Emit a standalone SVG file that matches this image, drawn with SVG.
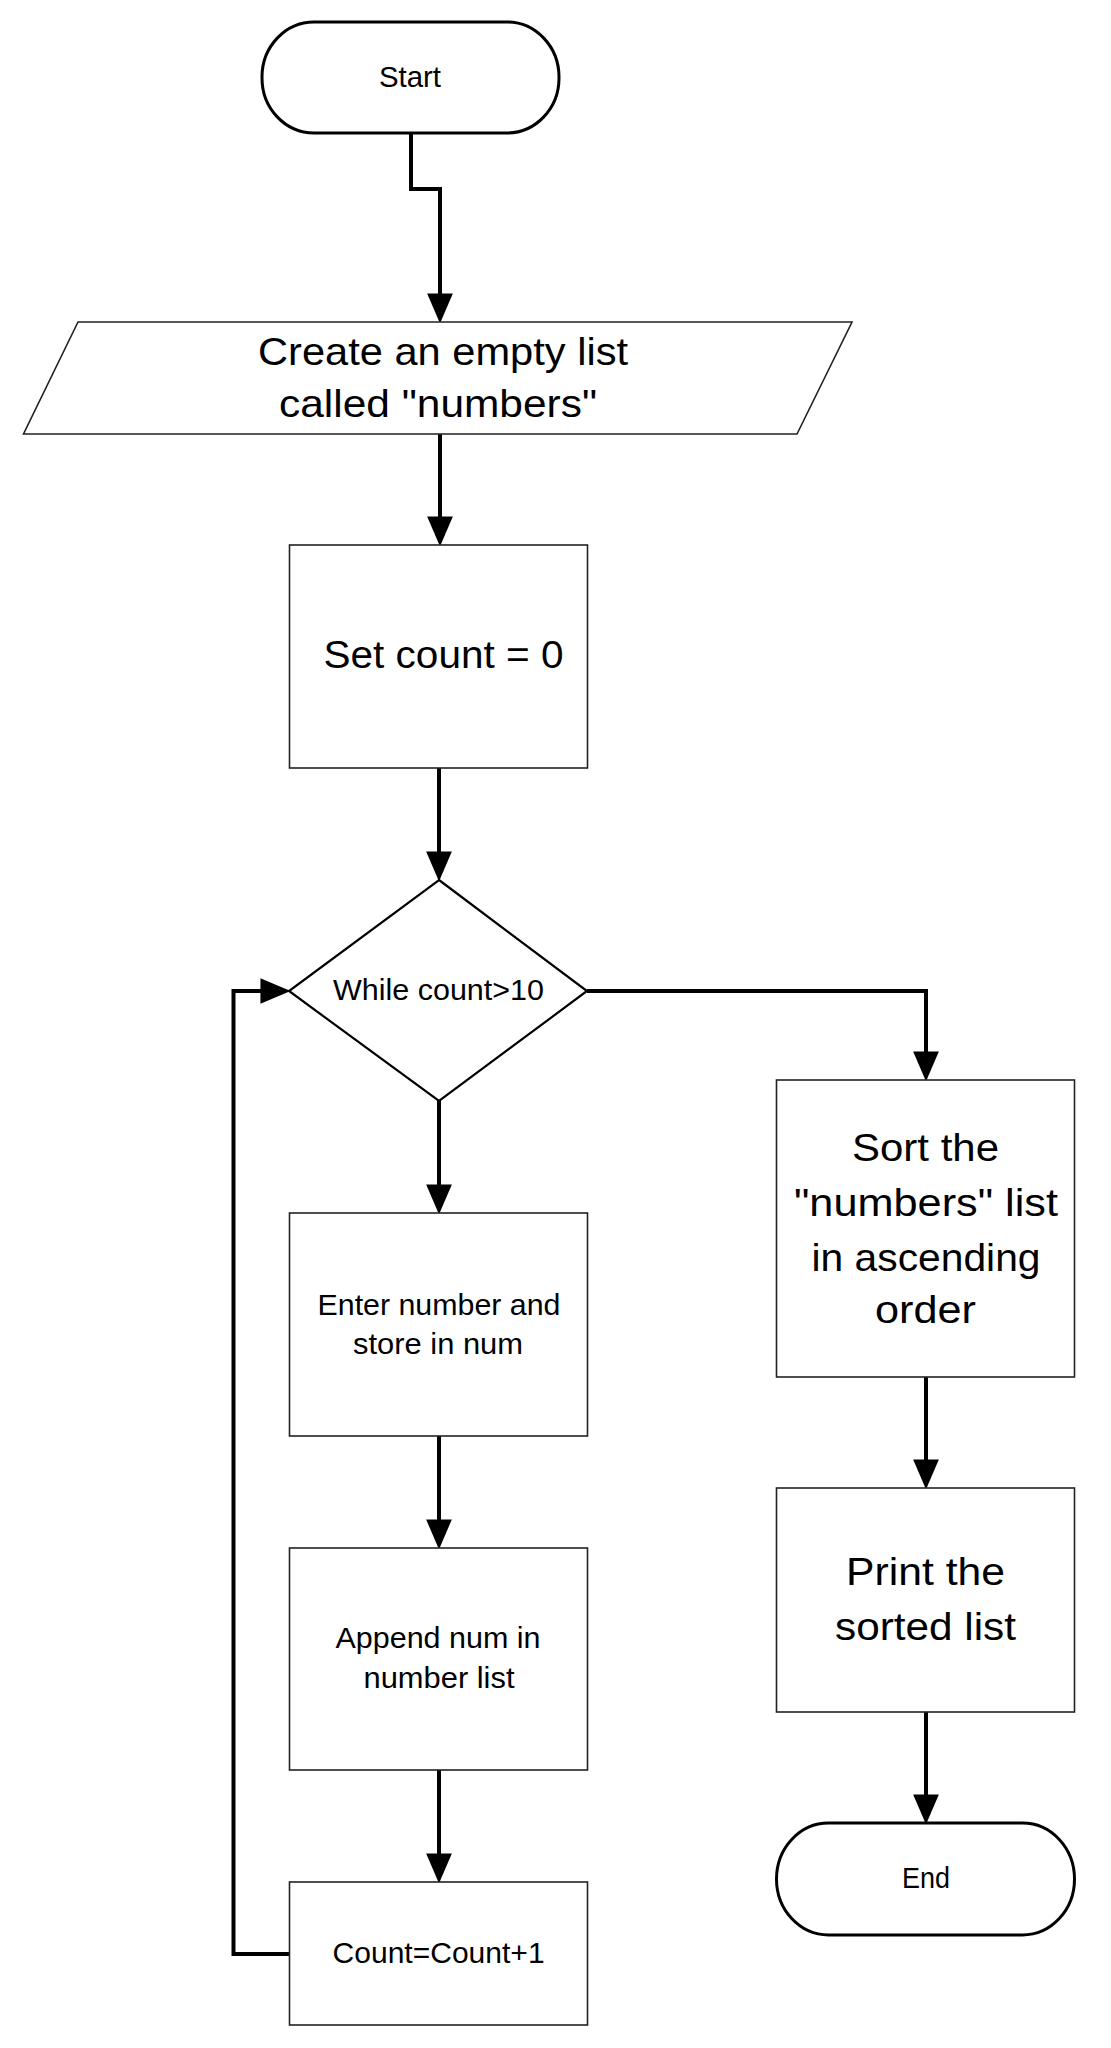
<svg xmlns="http://www.w3.org/2000/svg" width="1111" height="2048" viewBox="0 0 1111 2048">
<style>
text{font-family:"Liberation Sans",Arial,sans-serif;fill:#000;text-anchor:middle}
.box{fill:#fff;stroke:#222;stroke-width:1.6}
.term{fill:#fff;stroke:#000;stroke-width:3}
.big{font-size:38.5px}
.mid{font-size:29px}
.sm{font-size:29px}
.conn{fill:none;stroke:#000;stroke-width:4}
</style>
<defs>
<marker id="arr" markerUnits="userSpaceOnUse" markerWidth="30" markerHeight="26" viewBox="0 0 28 24" refX="8" refY="12" orient="auto">
<path d="M0,0 L28,12 L0,24 z" fill="#000"/>
</marker>
</defs>
<rect width="1111" height="2048" fill="#fff"/>
<g id="connectors">
<path class="conn" d="M411,133 V189 H440 V302" marker-end="url(#arr)"/>
<path class="conn" d="M440,434 V525" marker-end="url(#arr)"/>
<path class="conn" d="M439,768 V860" marker-end="url(#arr)"/>
<path class="conn" d="M439,1101 V1193" marker-end="url(#arr)"/>
<path class="conn" d="M439,1436 V1528" marker-end="url(#arr)"/>
<path class="conn" d="M439,1770 V1862" marker-end="url(#arr)"/>
<path class="conn" d="M289,1954 H233.5 V991 H269" marker-end="url(#arr)"/>
<path class="conn" d="M587,991 H926 V1060" marker-end="url(#arr)"/>
<path class="conn" d="M926,1377 V1468" marker-end="url(#arr)"/>
<path class="conn" d="M926,1712 V1803" marker-end="url(#arr)"/>
</g>
<g id="start">
<rect class="term" x="262" y="22" width="297" height="111" rx="52" ry="55"/>
<text class="sm" x="410" y="87" textLength="62" lengthAdjust="spacingAndGlyphs">Start</text>
</g>
<g id="create">
<polygon class="box" points="78,322 852,322 797,434 23.5,434"/>
<text class="big" x="443" y="365" textLength="370" lengthAdjust="spacingAndGlyphs">Create an empty list</text>
<text class="big" x="438" y="417" textLength="318" lengthAdjust="spacingAndGlyphs">called "numbers"</text>
</g>
<g id="setcount">
<rect class="box" x="289.5" y="545" width="298" height="223"/>
<text class="big" x="443.5" y="668" textLength="240" lengthAdjust="spacingAndGlyphs">Set count = 0</text>
</g>
<g id="while">
<polygon class="box" points="439,880 587,991 439,1101 289,991" style="stroke-width:2.2;stroke:#000"/>
<text class="mid" x="438.5" y="1000" textLength="211" lengthAdjust="spacingAndGlyphs">While count&gt;10</text>
</g>
<g id="enter">
<rect class="box" x="289.5" y="1213" width="298" height="223"/>
<text class="mid" x="439" y="1315" textLength="243" lengthAdjust="spacingAndGlyphs">Enter number and</text>
<text class="mid" x="438" y="1354" textLength="170" lengthAdjust="spacingAndGlyphs">store in num</text>
</g>
<g id="append">
<rect class="box" x="289.5" y="1548" width="298" height="222"/>
<text class="mid" x="438" y="1648" textLength="205" lengthAdjust="spacingAndGlyphs">Append num in</text>
<text class="mid" x="439" y="1688" textLength="151" lengthAdjust="spacingAndGlyphs">number list</text>
</g>
<g id="countinc">
<rect class="box" x="289.5" y="1882" width="298" height="143"/>
<text class="mid" x="438.6" y="1963" textLength="212" lengthAdjust="spacingAndGlyphs">Count=Count+1</text>
</g>
<g id="sort">
<rect class="box" x="776.5" y="1080" width="298" height="297"/>
<text class="big" x="925.5" y="1161" textLength="147" lengthAdjust="spacingAndGlyphs">Sort the</text>
<text class="big" x="926" y="1216" textLength="264" lengthAdjust="spacingAndGlyphs">"numbers" list</text>
<text class="big" x="926" y="1271" textLength="229" lengthAdjust="spacingAndGlyphs">in ascending</text>
<text class="big" x="925.5" y="1323" textLength="101" lengthAdjust="spacingAndGlyphs">order</text>
</g>
<g id="print">
<rect class="box" x="776.5" y="1488" width="298" height="224"/>
<text class="big" x="925.5" y="1585" textLength="159" lengthAdjust="spacingAndGlyphs">Print the</text>
<text class="big" x="925.5" y="1640" textLength="181" lengthAdjust="spacingAndGlyphs">sorted list</text>
</g>
<g id="end">
<rect class="term" x="776.5" y="1823" width="298" height="112" rx="52" ry="56"/>
<text class="sm" x="926" y="1888" textLength="48" lengthAdjust="spacingAndGlyphs">End</text>
</g>
</svg>
